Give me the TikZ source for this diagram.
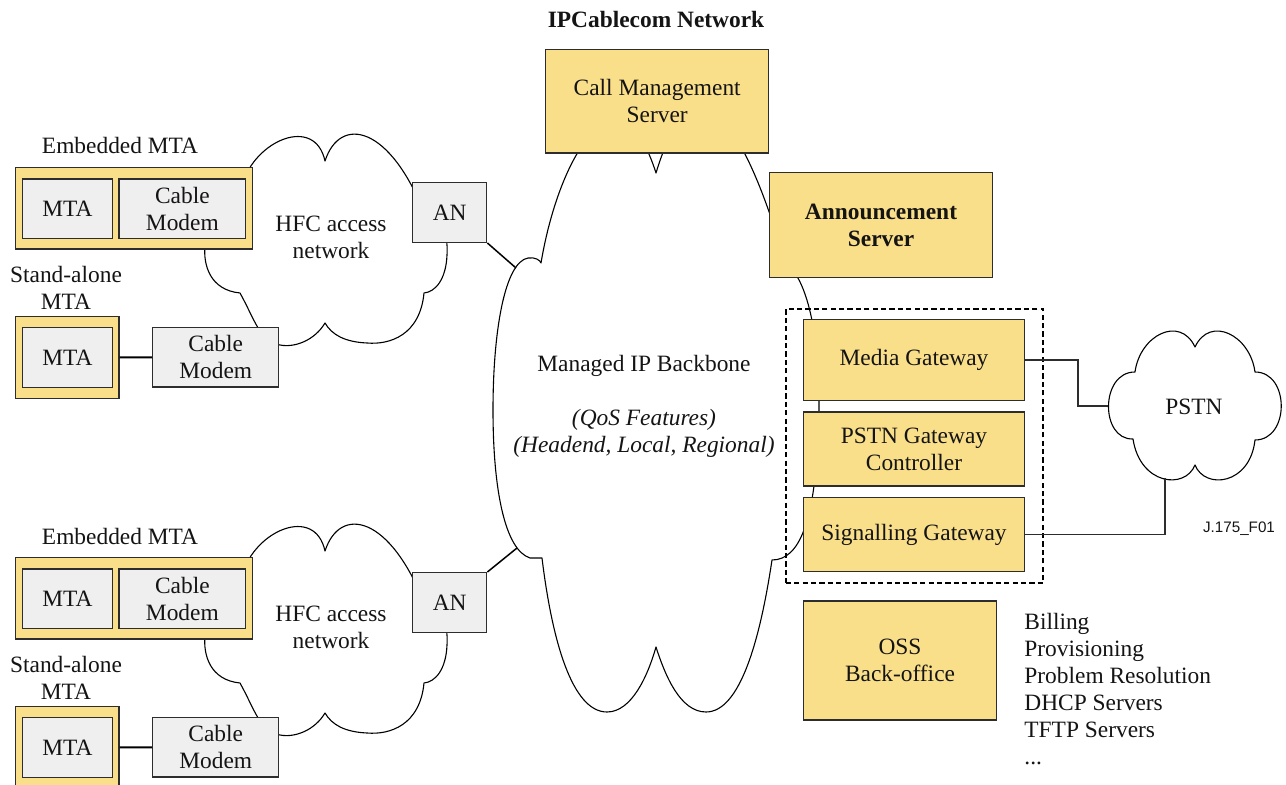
\documentclass[tikz,border=0pt]{standalone}
\usepackage{fontspec}
\setmainfont{Liberation Serif}
\newfontfamily\labelsans{Liberation Sans}
\usetikzlibrary{calc}
\definecolor{boxyellow}{RGB}{250,223,138}
\definecolor{boxgrey}{RGB}{239,239,239}
\definecolor{edgegrey}{RGB}{45,45,45}
\definecolor{txt}{RGB}{20,20,20}
\begin{document}
\begin{tikzpicture}[x=0.5pt,y=-0.5pt,
  every node/.style={font=\fontsize{11.7}{13.5}\selectfont, text=txt, inner sep=0pt},
  ybox/.style={draw=edgegrey, line width=0.7pt, fill=boxyellow, align=center},
  gbox/.style={draw=edgegrey, line width=0.7pt, fill=boxgrey, align=center},
  cloudline/.style={draw=black, line width=0.55pt, line join=round},
  link/.style={draw=black, line width=0.75pt},
  thicklink/.style={draw=black, line width=1pt},
  thinlink/.style={draw=edgegrey, line width=0.55pt},
  dashframe/.style={draw=black, line width=0.9pt, dash pattern=on 2.6pt off 1.6pt},
  lbl/.style={align=center}]
\useasboundingbox (0,0) rectangle (1286,785);
\clip (0,0) rectangle (1286,785);

% left access groups (upper and lower)
\foreach \s/\dy in {u/0,l/390}{
 \begin{scope}[shift={(0,\dy)}]
  \path[cloudline] (242,185)
   .. controls (255,140) and (315,115) .. (325,161)
   .. controls (340,115) and (390,125) .. (425,215)
   .. controls (445,218) and (448,240) .. (447,255)
   .. controls (446,280) and (435,292) .. (424,293)
   .. controls (420,335) and (390,345) .. (367,343)
   .. controls (345,342) and (332,335) .. (325,323)
   .. controls (315,340) and (295,348) .. (280,345)
   .. controls (260,342) and (255,320) .. (240,293)
   .. controls (210,290) and (203,265) .. (205,245)
   .. controls (207,215) and (225,190) .. cycle;
  \node[lbl] (embl\s) at (120,146) {Embedded MTA};
  \node[ybox, minimum width=118.3pt, minimum height=40.65pt] (emb\s) at (134,208.35) {};
  \node[gbox, minimum width=44.8pt, minimum height=29.85pt] (emta\s) at (67.5,208.85) {MTA};
  \node[gbox, minimum width=63.35pt, minimum height=29.85pt] (ecm\s) at (182.35,208.85) {Cable\\Modem};
  \node[lbl] (hfc\s) at (331,237) {HFC access\\network};
  \node[gbox, minimum width=37pt, minimum height=29.8pt] (an\s) at (449.7,212.5) {AN};
  \node[lbl] (sal\s) at (66,287.5) {Stand-alone\\MTA};
  \node[ybox, minimum width=51.65pt, minimum height=40.8pt] (sa\s) at (67.35,357.5) {};
  \node[gbox, minimum width=44.8pt, minimum height=30pt] (samta\s) at (67.5,357.3) {MTA};
  \node[gbox, minimum width=63pt, minimum height=29.7pt] (sacm\s) at (215.7,357.3) {Cable\\Modem};
  \draw[thicklink] (sa\s.east) -- (sacm\s.west);
 \end{scope}
}

% managed IP backbone cloud
\path[cloudline] (656,173)
 .. controls (690,60) and (738,100) .. (785,262)
 .. controls (815,285) and (822,370) .. (818,440)
 .. controls (814,520) and (800,560) .. (772,560)
 .. controls (760,640) and (740,712) .. (706,712)
 .. controls (680,712) and (665,675) .. (656,647)
 .. controls (648,675) and (632,712) .. (607,712)
 .. controls (572,712) and (552,640) .. (542,558)
 -- (530,558)
 .. controls (505,550) and (493,490) .. (493,410)
 .. controls (493,330) and (505,262) .. (528,258)
 .. controls (535,257) and (540,260) .. (541,263)
 .. controls (560,150) and (620,60) .. cycle;
\coordinate (bbu) at (516,268);
\coordinate (bbl) at (517,548);
\node[lbl] (backbone) at (644,406.5) {Managed IP Backbone\\[13.5pt]\textit{(QoS Features)}\\\textit{(Headend, Local, Regional)}};

\draw[link] (anu.south east) -- (bbu);
\draw[link] (anl.north east) -- (bbl);

% PSTN cloud
\path[cloudline] (1135,372)
 .. controls (1140,335) and (1180,315) .. (1195,347)
 .. controls (1210,315) and (1250,335) .. (1255,372)
 .. controls (1290,372) and (1290,440) .. (1255,440)
 .. controls (1250,485) and (1205,490) .. (1195,465)
 .. controls (1185,490) and (1140,485) .. (1133,439)
 .. controls (1100,440) and (1100,372) .. cycle;
\node (pstn) at (1194,407) {PSTN};
\coordinate (pw) at (1108,406);
\coordinate (pb) at (1165,478);
\coordinate (bendx) at (1078,406);

% title
\node (title) at (656,20) {\bfseries IPCablecom Network};

% servers
\node[ybox, minimum width=111.5pt, minimum height=51.85pt] (cms) at (657.2,101.15) {Call Management\\Server};
\node[ybox, minimum width=111.7pt, minimum height=52.3pt, font=\fontsize{11.7}{13.5}\selectfont\bfseries] (ann) at (881,225) {Announcement\\Server};

% gateways
\node[dashframe, minimum width=128.8pt, minimum height=137pt] (gwframe) at (914.5,446) {};
\node[ybox, minimum width=110.7pt, minimum height=40.7pt] (mg) at (914,360) {Media Gateway};
\node[ybox, minimum width=110.7pt, minimum height=37pt] (pgc) at (914,449) {PSTN Gateway\\Controller};
\node[ybox, minimum width=110.7pt, minimum height=37pt] (sg) at (914,534.7) {Signalling Gateway};

\draw[thinlink] (mg.east) -- (mg.east -| bendx) |- (pw);
\draw[thinlink] (sg.east) -| (pb);

\node[font=\labelsans\fontsize{7.6}{9}\selectfont] (fig) at (1239,529) {J.175\_F01};

% OSS
\node[ybox, minimum width=96.7pt, minimum height=59.5pt] (oss) at (900,660.5) {OSS\\Back-office};
\node[anchor=north west, align=left] (osslist) at (1024,613) {Billing\\Provisioning\\Problem Resolution\\DHCP Servers\\TFTP Servers\\...};
\end{tikzpicture}
\end{document}
